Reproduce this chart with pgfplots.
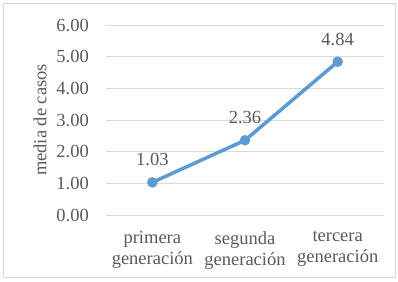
\documentclass[border=0pt]{standalone}
\usepackage{fontspec}
\setmainfont{Liberation Serif}
\usepackage{pgfplots}
\pgfplotsset{compat=1.18}
\definecolor{linec}{HTML}{5B9BD5}
\definecolor{gridc}{HTML}{D9D9D9}
\definecolor{txt}{HTML}{595959}
\begin{document}
\fontsize{18.5bp}{21bp}\selectfont
\begin{tikzpicture}
\useasboundingbox (0,0) rectangle (398bp,282bp);
\draw[gridc, line width=1bp] (3bp,4bp) rectangle (395bp,278bp);
\begin{axis}[
  at={(106bp,67bp)}, anchor=south west,
  scale only axis, width=278bp, height=190bp,
  xmin=-0.5, xmax=2.5, ymin=0, ymax=6,
  ytick={0,1,2,3,4,5,6},
  xtick={0,1,2},
  xticklabels={primera\\generación, segunda\\generación, tercera\\generación},
  /pgf/number format/assume math mode=true,
  yticklabel style={text=txt, anchor=east, inner sep=0pt, xshift=-17bp,
    /pgf/number format/fixed, /pgf/number format/fixed zerofill, /pgf/number format/precision=2},
  xticklabel style={text=txt, align=center, anchor=north, inner sep=0pt, yshift=-16bp},
  ymajorgrids, grid style={gridc, line width=1bp},
  axis line style={draw=none},
  major tick length=0pt,
  ylabel={media de casos},
  ylabel style={text=txt, at={(axis description cs:-0.237,0.5)}, anchor=center},
  clip=false,
  nodes near coords,
  nodes near coords style={text=txt, anchor=south, inner sep=0pt, yshift=16bp,
    /pgf/number format/fixed, /pgf/number format/fixed zerofill, /pgf/number format/precision=2},
]
\addplot[color=linec, line width=3.5bp, mark=*, mark size=5bp, mark options={line width=0.5bp, fill=linec}]
  coordinates {(0,1.03) (1,2.36) (2,4.84)};
\end{axis}
\end{tikzpicture}
\end{document}
